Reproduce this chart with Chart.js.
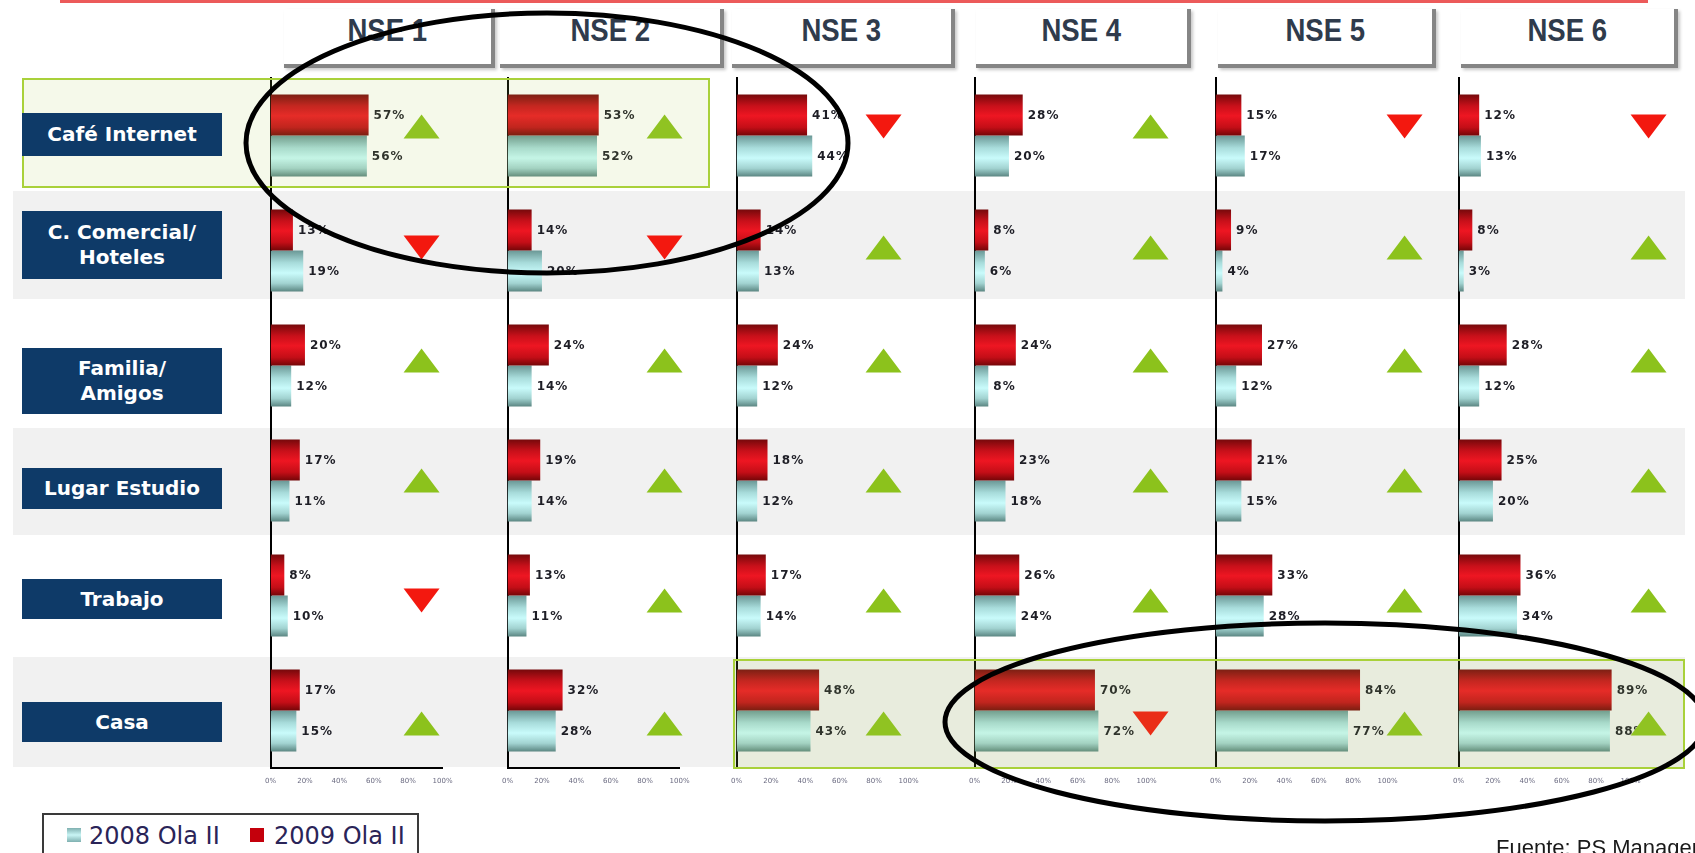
<!DOCTYPE html>
<html lang="es">
<head>
<meta charset="utf-8">
<title>Lugar de acceso a Internet por NSE</title>
<script src="https://cdn.jsdelivr.net/npm/chart.js@4.4.1/dist/chart.umd.min.js"></script>
<style>
html,body{margin:0;padding:0;background:#fff;}
#lamina{position:relative;width:1695px;height:853px;overflow:hidden;background:#fff;font-family:"DejaVu Sans",Verdana,sans-serif;}
.linea-roja{position:absolute;left:60px;top:0;width:1588px;height:3px;background:#ec5a5a;}
.franja{position:absolute;left:13px;width:1672px;background:#f1f1f1;}
.pestana{position:absolute;top:9px;height:55px;border-right:4px solid #858585;border-bottom:4px solid #858585;box-shadow:2px 2px 3px rgba(0,0,0,.22);text-align:center;line-height:54px;}
.pestana span{display:inline-block;font:bold 32px "Liberation Sans",Arial,sans-serif;color:#2f3b4c;transform:scaleX(.86);}
.etiqueta{position:absolute;left:22px;width:200px;background:#0e3a68;color:#fff;font:bold 20px "DejaVu Sans",Verdana,sans-serif;line-height:25px;text-align:center;display:flex;flex-direction:column;align-items:center;justify-content:center;}
.panel{position:absolute;}
.panel canvas{display:block;}
.resalte{position:absolute;border:2px solid #a9d13a;background:rgba(170,205,80,0.12);box-sizing:border-box;pointer-events:none;}
#trazos{position:absolute;left:0;top:0;}
.leyenda{position:absolute;left:42px;top:813px;width:377px;height:60px;border:2px solid #3a3a3a;box-sizing:border-box;background:#fff;}
.leyenda .muestra{position:absolute;top:13px;width:14px;height:14px;}
.leyenda .texto{position:absolute;top:9px;font:24px "DejaVu Sans",Verdana,sans-serif;line-height:24px;color:#2a2458;white-space:nowrap;}
.fuente{position:absolute;left:1496px;top:837px;font:22px "Liberation Sans",Arial,sans-serif;line-height:22px;color:#1a1a1a;white-space:nowrap;}
</style>
</head>
<body>
<div id="lamina">
  <div class="linea-roja"></div>
  <div class="franja" style="top:191px;height:108px"></div>
  <div class="franja" style="top:428px;height:107px"></div>
  <div class="franja" style="top:657px;height:110px"></div>
  <div id="pestanas"></div>
  <div id="paneles"></div>
  <div class="resalte" style="left:22px;top:78px;width:688px;height:110px"></div>
  <div class="resalte" style="left:733px;top:659px;width:952px;height:110px"></div>
  <div id="etiquetas"></div>
  <svg id="trazos" width="1695" height="853">
    <ellipse cx="547" cy="143" rx="301" ry="130" fill="none" stroke="#000" stroke-width="5"/>
    <ellipse cx="1325" cy="722" rx="380" ry="99" fill="none" stroke="#000" stroke-width="5"/>
  </svg>
  <div class="leyenda">
    <span class="muestra" style="left:23px;background:linear-gradient(#7fb0b0,#c9f5f5 50%,#7fb0b0)"></span>
    <span class="texto" id="ley2008" style="left:45px"></span>
    <span class="muestra" style="left:206px;background:#c4000c"></span>
    <span class="texto" id="ley2009" style="left:230px"></span>
  </div>
  <div class="fuente">Fuente: PS Management</div>
</div>
<script>
const niveles = ["NSE 1", "NSE 2", "NSE 3", "NSE 4", "NSE 5", "NSE 6"];
const filas = [["Café Internet"], ["C. Comercial/", "Hoteles"], ["Familia/", "Amigos"], ["Lugar Estudio"], ["Trabajo"], ["Casa"]];
const serie2008 = "2008 Ola II";
const serie2009 = "2009 Ola II";

// % por nivel, en el orden de filas
const ola2009 = [
  [57, 13, 20, 17, 8, 17],
  [53, 14, 24, 19, 13, 32],
  [41, 14, 24, 18, 17, 48],
  [28, 8, 24, 23, 26, 70],
  [15, 9, 27, 21, 33, 84],
  [12, 8, 28, 25, 36, 89]
];
const ola2008 = [
  [56, 19, 12, 11, 10, 15],
  [52, 20, 14, 14, 11, 28],
  [44, 13, 12, 12, 14, 43],
  [20, 6, 8, 18, 24, 72],
  [17, 4, 12, 15, 28, 77],
  [13, 3, 12, 20, 34, 88]
];
const ticksEje = [0, 20, 40, 60, 80, 100];

// geometria de la lamina
const ejeX = [271, 508, 737, 975, 1216, 1459];
const flechaX = [151, 157, 147, 176, 189, 190];
const flechaDy = [-9, -3, -5, 0, 5, 13];
const pestanas = [[284, 495], [500, 724], [732, 955], [976, 1191], [1218, 1436], [1461, 1678]];
const cajas = [[113, 43], [211, 68], [348, 66], [468, 41], [579, 40], [702, 40]];
const AREA_TOP = 78, AREA_ALTO = 690, AREA_ANCHO = 172;
const CAT_PCT = 0.713;

const tonosRojo = [[0, '#76090b'], [0.28, '#c8101a'], [0.52, '#ee1622'], [0.8, '#c40e17'], [1, '#740608']];
const tonosTeal = [[0, '#6a9795'], [0.3, '#a8dcdb'], [0.55, '#c9fbfb'], [0.8, '#a2d3d1'], [1, '#5b8682']];

document.getElementById('ley2008').textContent = serie2008;
document.getElementById('ley2009').textContent = serie2009;

niveles.forEach((n, i) => {
  const d = document.createElement('div');
  d.className = 'pestana';
  d.style.left = pestanas[i][0] + 'px';
  d.style.width = (pestanas[i][1] - pestanas[i][0] - 4) + 'px';
  d.innerHTML = '<span>' + n + '</span>';
  document.getElementById('pestanas').appendChild(d);
});

filas.forEach((f, i) => {
  const d = document.createElement('div');
  d.className = 'etiqueta';
  d.style.top = cajas[i][0] + 'px';
  d.style.height = cajas[i][1] + 'px';
  f.forEach(linea => {
    const s = document.createElement('span');
    s.textContent = linea;
    d.appendChild(s);
  });
  document.getElementById('etiquetas').appendChild(d);
});

// degradado vertical de cada barra (efecto cilindro)
function degradado(c, tonos, arriba) {
  const eje = c.chart.scales.y;
  if (c.type !== 'data' || !eje || !eje.height) return tonos[2][1];
  const centro = eje.getPixelForValue(c.dataIndex);
  const grueso = eje.height / filas.length * CAT_PCT / 2;
  const y0 = arriba ? centro - grueso : centro;
  const g = c.chart.ctx.createLinearGradient(0, y0, 0, y0 + grueso);
  tonos.forEach(([t, col]) => g.addColorStop(t, col));
  return g;
}

// valores al final de cada barra y flecha de variacion
const rotulos = {
  id: 'rotulos',
  afterDatasetsDraw(chart, args, opts) {
    const ctx = chart.ctx;
    const ejeY = chart.scales.y;
    ctx.save();
    ctx.font = 'bold 12px "DejaVu Sans", Verdana, sans-serif';
    ctx.letterSpacing = '1px';
    ctx.fillStyle = '#1e1e26';
    ctx.textBaseline = 'middle';
    chart.data.datasets.forEach((ds, i) => {
      chart.getDatasetMeta(i).data.forEach((barra, j) => {
        ctx.fillText(ds.data[j] + '%', barra.x + 5, barra.y + 1);
      });
    });
    const d09 = chart.data.datasets[0].data;
    const d08 = chart.data.datasets[1].data;
    const cx = chart.chartArea.left + opts.flecha;
    d09.forEach((v, j) => {
      const cy = ejeY.getPixelForValue(j) + flechaDy[j];
      ctx.beginPath();
      if (v > d08[j]) {
        ctx.moveTo(cx, cy - 12);
        ctx.lineTo(cx + 18, cy + 12);
        ctx.lineTo(cx - 18, cy + 12);
        ctx.fillStyle = '#8cc21c';
      } else {
        ctx.moveTo(cx - 18, cy - 12);
        ctx.lineTo(cx + 18, cy - 12);
        ctx.lineTo(cx, cy + 12);
        ctx.fillStyle = '#f3180f';
      }
      ctx.closePath();
      ctx.fill();
    });
    ctx.restore();
  }
};

niveles.forEach((nse, p) => {
  const caja = document.createElement('div');
  caja.className = 'panel';
  const lienzo = document.createElement('canvas');
  lienzo.width = 244;
  lienzo.height = 730;
  caja.appendChild(lienzo);
  document.getElementById('paneles').appendChild(caja);

  const grafico = new Chart(lienzo, {
    type: 'bar',
    data: {
      labels: filas,
      datasets: [
        { label: serie2009, data: ola2009[p], categoryPercentage: CAT_PCT, barPercentage: 1,
          backgroundColor: c => degradado(c, tonosRojo, true) },
        { label: serie2008, data: ola2008[p], categoryPercentage: CAT_PCT, barPercentage: 1,
          backgroundColor: c => degradado(c, tonosTeal, false) }
      ]
    },
    options: {
      indexAxis: 'y',
      responsive: false,
      animation: false,
      events: [],
      layout: { padding: { left: 12, right: 60, top: 4, bottom: 19 } },
      plugins: {
        legend: { display: false },
        tooltip: { enabled: false },
        rotulos: { flecha: flechaX[p] }
      },
      scales: {
        x: {
          min: 0, max: 100,
          afterBuildTicks: s => { s.ticks = ticksEje.map(v => ({ value: v })); },
          grid: { display: false, drawTicks: false },
          border: { color: '#000', width: 2 },
          ticks: { padding: 9, autoSkip: false, maxRotation: 0, color: '#6a6a80',
                   font: { size: 7, family: 'DejaVu Sans' }, callback: v => v + '%' }
        },
        y: {
          grid: { display: false, drawTicks: false },
          border: { color: '#000', width: 2 },
          ticks: { display: false }
        }
      }
    },
    plugins: [rotulos]
  });

  const ca = grafico.chartArea;
  grafico.options.layout.padding.bottom += (ca.bottom - ca.top) - AREA_ALTO;
  grafico.options.layout.padding.right += (ca.right - ca.left) - AREA_ANCHO;
  grafico.update('none');
  caja.style.left = (ejeX[p] - grafico.chartArea.left) + 'px';
  caja.style.top = (AREA_TOP - grafico.chartArea.top) + 'px';
});
</script>
</body>
</html>
